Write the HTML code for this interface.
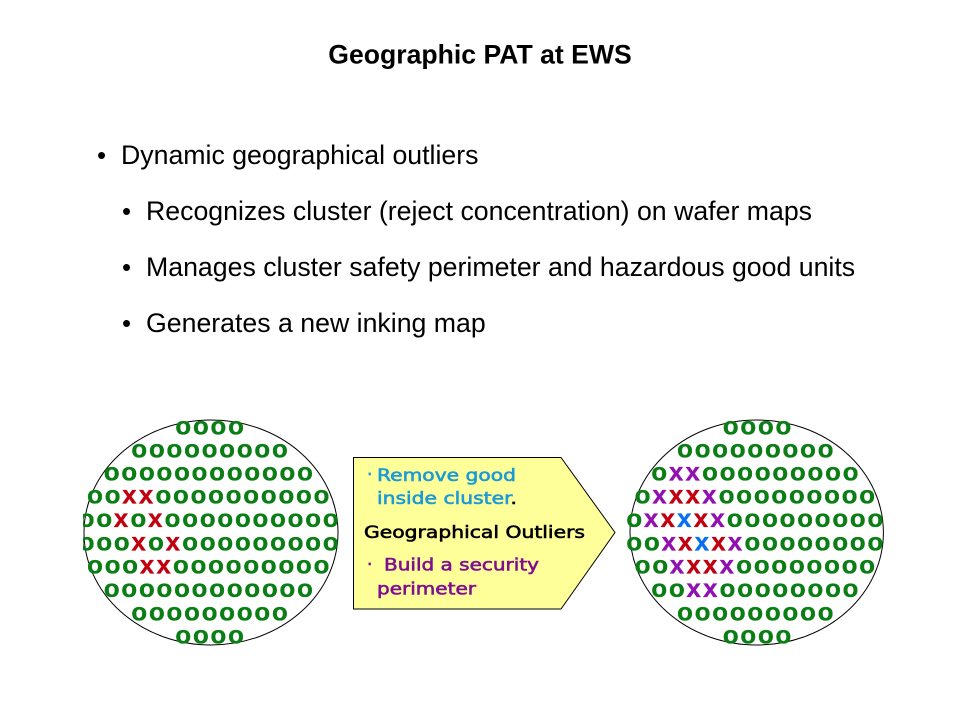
<!DOCTYPE html>
<html><head><meta charset="utf-8"><style>
html,body{margin:0;padding:0;background:#fff}
svg{display:block}
.t{font-family:"Liberation Sans",sans-serif;fill:#000}
.m{font-family:"Liberation Sans",sans-serif;font-weight:bold;font-size:25px;letter-spacing:1.8px;fill:#0a7d14}
.m text{stroke:#0a7d14;stroke-width:.35}
.m .r{fill:#c00010;stroke:#c00010;letter-spacing:2.2px}.m .p{fill:#9010b0;stroke:#9010b0;letter-spacing:2.2px}.m .b{fill:#0870f0;stroke:#0870f0;letter-spacing:2.2px}
.c{font-family:"DejaVu Sans",sans-serif;font-size:17px;stroke-width:.6}
</style></head><body>
<svg width="960" height="720" viewBox="0 0 960 720" xmlns="http://www.w3.org/2000/svg">
<text class="t" x="480" y="63.5" text-anchor="middle" font-size="26.6" font-weight="bold">Geographic PAT at EWS</text>
<g class="t" font-size="26.7">
<text x="97" y="164" font-size="26">•</text><text x="121" y="164">Dynamic geographical outliers</text>
<text x="122" y="220" font-size="26">•</text><text x="146" y="220">Recognizes cluster (reject concentration) on wafer maps</text>
<text x="122" y="276" font-size="26">•</text><text x="146" y="276">Manages cluster safety perimeter and hazardous good units</text>
<text x="122" y="332" font-size="26">•</text><text x="146" y="332">Generates a new inking map</text>
</g>
<defs><clipPath id="cl"><rect x="83" y="400" width="257" height="260"/></clipPath></defs>
<ellipse cx="211" cy="532.5" rx="127" ry="112.5" fill="#fff" stroke="#000" stroke-width="1"/>
<ellipse cx="756.7" cy="532.5" rx="126.7" ry="112.5" fill="#fff" stroke="#000" stroke-width="1"/>
<g clip-path="url(#cl)">
<g class="m" transform="scale(1.03,1)">
<text x="170.3" y="434.5">oooo</text>
<text x="127.6" y="457.5">ooooooooo</text>
<text x="100.8" y="480.5">oooooooooooo</text>
<text x="84.6" y="503.5">oo<tspan class="r">xx</tspan>oooooooooo</text>
<text x="76.5" y="527">oo<tspan class="r">x</tspan>o<tspan class="r">x</tspan>oooooooooo</text>
<text x="76.5" y="550.5">ooo<tspan class="r">x</tspan>o<tspan class="r">x</tspan>ooooooooo</text>
<text x="84.6" y="573.5">ooo<tspan class="r">xx</tspan>ooooooooo</text>
<text x="100.8" y="597">oooooooooooo</text>
<text x="127.6" y="620.5">ooooooooo</text>
<text x="170.3" y="643.5">oooo</text>
</g></g>
<g class="m" transform="scale(1.03,1)">
<text x="701.8" y="434.5">oooo</text>
<text x="657.4" y="457.5">ooooooooo</text>
<text x="632.4" y="480.5">o<tspan class="p">xx</tspan>ooooooooo</text>
<text x="616.3" y="503.5">o<tspan class="p">x</tspan><tspan class="r">xx</tspan><tspan class="p">x</tspan>ooooooooo</text>
<text x="608.2" y="527">o<tspan class="p">x</tspan><tspan class="r">x</tspan><tspan class="b">x</tspan><tspan class="r">x</tspan><tspan class="p">x</tspan>ooooooooo</text>
<text x="608.2" y="550.5">oo<tspan class="p">x</tspan><tspan class="r">x</tspan><tspan class="b">x</tspan><tspan class="r">x</tspan><tspan class="p">x</tspan>oooooooo</text>
<text x="616.3" y="573.5">oo<tspan class="p">x</tspan><tspan class="r">xx</tspan><tspan class="p">x</tspan>oooooooo</text>
<text x="632.4" y="597">oo<tspan class="p">xx</tspan>oooooooo</text>
<text x="657.4" y="620.5">ooooooooo</text>
<text x="701.8" y="643.5">oooo</text>
</g>
<polygon points="353.5,457.5 561,457.5 615,532.5 561,609 353.5,609" fill="#ffff99" stroke="#000" stroke-width="1"/>
<g class="c">
<text x="367" y="480" fill="#1a9ad6" stroke="#1a9ad6">·</text>
<text x="377" y="481" fill="#1a9ad6" stroke="#1a9ad6" textLength="139" lengthAdjust="spacingAndGlyphs">Remove good</text>
<text x="377" y="504" fill="#1a9ad6" stroke="#1a9ad6" textLength="140" lengthAdjust="spacingAndGlyphs">inside cluster<tspan fill="#000" stroke="#000">.</tspan></text>
<text x="364" y="538" fill="#000" stroke="#000" textLength="221" lengthAdjust="spacingAndGlyphs">Geographical Outliers</text>
<text x="367" y="570" fill="#800f90" stroke="#800f90">·</text>
<text x="384" y="570.5" fill="#800f90" stroke="#800f90" textLength="155" lengthAdjust="spacingAndGlyphs">Build a security</text>
<text x="377" y="594.5" fill="#800f90" stroke="#800f90" textLength="99" lengthAdjust="spacingAndGlyphs">perimeter</text>
</g>
</svg>
</body></html>
